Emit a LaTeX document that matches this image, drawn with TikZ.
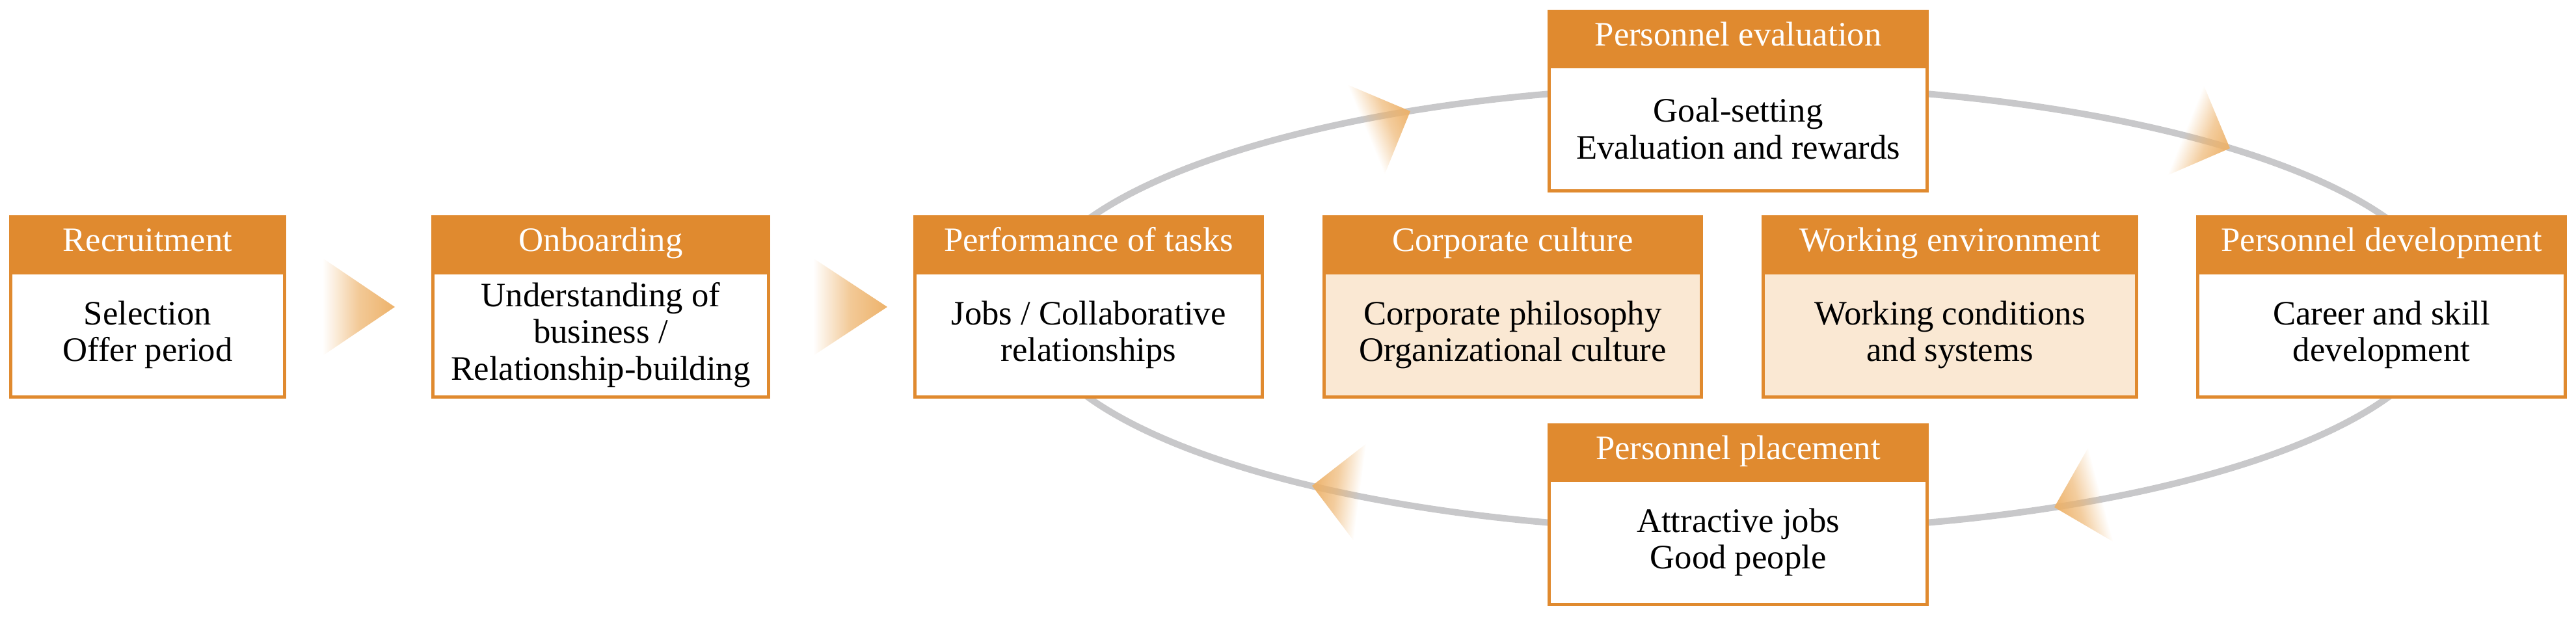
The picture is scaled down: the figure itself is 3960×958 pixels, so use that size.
\documentclass[tikz,border=0pt]{standalone}
\usepackage{fontspec}
\setmainfont{Liberation Serif}
\usetikzlibrary{fadings}

\definecolor{hdor}{RGB}{224,138,47}
\definecolor{softor}{RGB}{250,232,211}
\definecolor{ringgray}{RGB}{200,200,202}
\definecolor{arrowor}{RGB}{237,178,106}

\tikzfading[name=tipfade,left color=transparent!100,right color=transparent!0,middle color=transparent!35]

\begin{document}
\begin{tikzpicture}
    [x=0.1mm,y=-0.1mm,
    font=\fontsize{15}{16}\selectfont,
    hdr/.style={shape=rectangle,fill=hdor,text=white,minimum height=8.8mm,inner sep=0pt,text height=0.662em,text depth=0pt},
    txt/.style={shape=rectangle,draw=hdor,fill=white,line width=0.5mm,minimum height=19.15mm,inner sep=0pt,align=center},
    txt1/.style={txt,fill=softor},
    flow/.style={left color=white,right color=arrowor,middle color=arrowor!70},
    ring/.style={draw=ringgray,line width=1mm},
    ringtip/.style={fill=arrowor,path fading=tipfade}]

    \useasboundingbox (0,0) rectangle (3960,958);

    \coordinate (ringc) at (2672,474);
    \draw [ring] (ringc) ellipse [x radius=109mm,y radius=34.2mm];

    \coordinate (t1) at (2168,171);
    \coordinate (t2) at (3428,228);
    \coordinate (t3) at (3158,780);
    \coordinate (t4) at (2017,747);
    \begin{scope}[transform canvas={shift={(t1)},rotate=22.5}]
      \fill [ringtip] (0,0) -- (-74,-75) -- (-74,75) -- cycle;
    \end{scope}
    \begin{scope}[transform canvas={shift={(t2)},rotate=-22}]
      \fill [ringtip] (0,0) -- (-74,-75) -- (-74,75) -- cycle;
    \end{scope}
    \begin{scope}[transform canvas={shift={(t3)},rotate=195}]
      \fill [ringtip] (0,0) -- (-74,-75) -- (-74,75) -- cycle;
    \end{scope}
    \begin{scope}[transform canvas={shift={(t4)},rotate=172.5}]
      \fill [ringtip] (0,0) -- (-74,-75) -- (-74,75) -- cycle;
    \end{scope}

    \node (recruit) [hdr,minimum width=42.6mm] at (227,375) {Recruitment};
    \node (recruit-t) [txt,minimum width=42.1mm] at (227,515) {Selection\\Offer period};
    \node (onboard) [hdr,minimum width=52.1mm] at (923.5,375) {Onboarding};
    \node (onboard-t) [txt,minimum width=51.6mm] at (923.5,515) {Understanding of\\business /\\Relationship-building};
    \node (perform) [hdr,minimum width=53.9mm] at (1673.5,375) {Performance of tasks};
    \node (perform-t) [txt,minimum width=53.4mm] at (1673.5,515) {Jobs / Collaborative\\relationships};
    \node (culture) [hdr,minimum width=58.5mm] at (2325.5,375) {Corporate culture};
    \node (culture-t) [txt1,minimum width=58mm] at (2325.5,515) {Corporate philosophy\\Organizational culture};
    \node (environ) [hdr,minimum width=57.9mm] at (2997.5,375) {Working environment};
    \node (environ-t) [txt1,minimum width=57.4mm] at (2997.5,515) {Working conditions\\and systems};
    \node (develop) [hdr,minimum width=57mm] at (3661,375) {Personnel development};
    \node (develop-t) [txt,minimum width=56.5mm] at (3661,515) {Career and skill\\development};
    \node (evaluate) [hdr,minimum width=58.6mm] at (2672,59) {Personnel evaluation};
    \node (evaluate-t) [txt,minimum width=58.1mm] at (2672,198) {Goal-setting\\Evaluation and rewards};
    \node (place) [hdr,minimum width=58.6mm] at (2672,695) {Personnel placement};
    \node (place-t) [txt,minimum width=58.1mm] at (2672,834) {Attractive jobs\\Good people};

    \coordinate (f1) at (607,472);
    \coordinate (f2) at (1364,472);
    \shade [flow] (f1) -- ++(-111,-75) -- ++(0,150) -- cycle;
    \shade [flow] (f2) -- ++(-114,-75) -- ++(0,150) -- cycle;

\end{tikzpicture}
\end{document}
